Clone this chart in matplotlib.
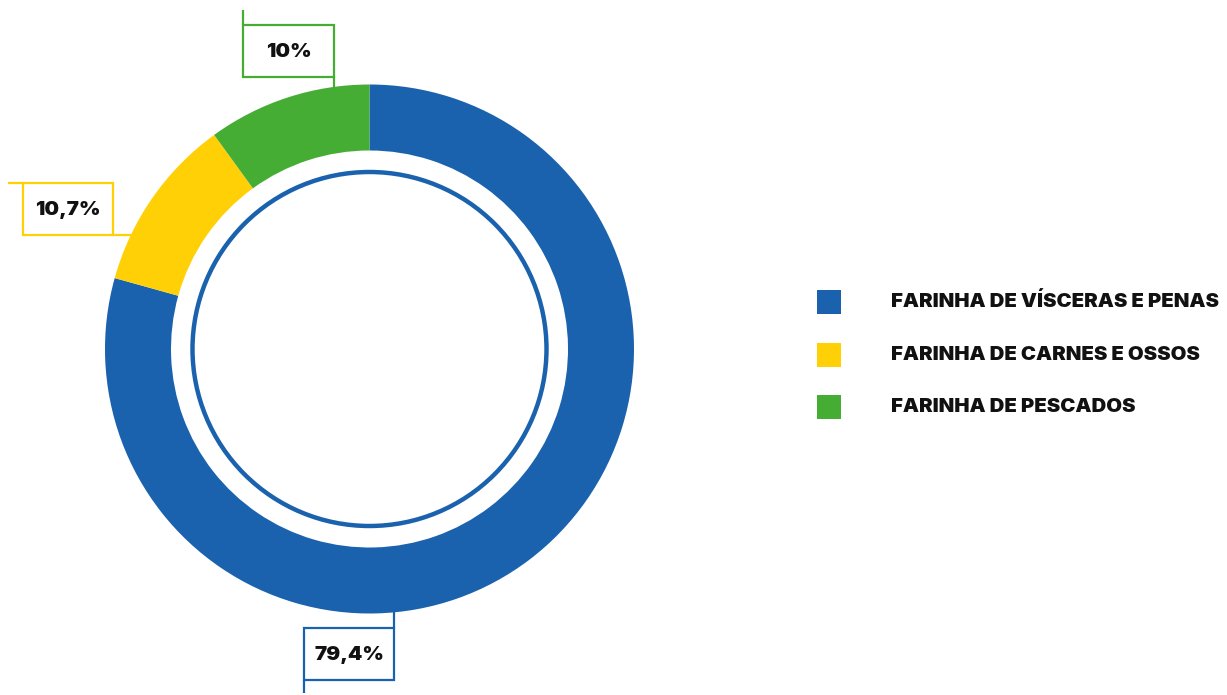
import matplotlib
matplotlib.use("Agg")
import matplotlib.pyplot as plt
from matplotlib.patches import Circle, Rectangle

plt.rcParams['font.family'] = ['Inter', 'DejaVu Sans']

categories = ["FARINHA DE VÍSCERAS E PENAS", "FARINHA DE CARNES E OSSOS", "FARINHA DE PESCADOS"]
values = [79.4, 10.7, 10.0]
colors = ["#1B62AE", "#FFD006", "#46AD34"]

W, H = 1227, 695
fig = plt.figure(figsize=(W / 100, H / 100), dpi=100)
ax = fig.add_axes([0, 0, 1, 1])

# pixel-like coordinates, y measured from the bottom
cx, cy = 369.5, H - 349
r_out, r_in = 264.5, 198.5

ax.pie(values, colors=colors, radius=r_out, center=(cx, cy), startangle=90,
       counterclock=False, wedgeprops=dict(width=r_out - r_in, linewidth=0))
ax.add_patch(Circle((cx, cy), 177, fill=False, edgecolor=colors[0], linewidth=3.2))

lw = 1.6


def label_box(x0, y0, x1, y1, color, text, leads):
    # box given in top-down pixel coords
    ax.add_patch(Rectangle((x0, H - y1), x1 - x0, y1 - y0, fill=False,
                           edgecolor=color, linewidth=lw))
    for (xa, ya), (xb, yb) in leads:
        ax.plot([xa, xb], [H - ya, H - yb], color=color, linewidth=lw,
                solid_capstyle='butt')
    ax.text((x0 + x1) / 2, H - (y0 + y1) / 2 - 1, text, ha='center', va='center',
            fontsize=14.8, fontweight=900, color='#111111')


def fmt(v):
    return f"{v:g}".replace('.', ',') + '%'


# blue label below the ring
label_box(304, 628, 394, 680, colors[0], fmt(values[0]),
          [((394, 612), (394, 628)), ((304, 680), (304, 693))])
# yellow label to the left
label_box(23, 183, 113, 235, colors[1], fmt(values[1]),
          [((8, 183), (23, 183)), ((113, 235), (131, 235))])
# green label above
label_box(243, 25, 334, 77, colors[2], fmt(values[2]),
          [((243, 10), (243, 25)), ((334, 77), (334, 88))])

# legend
for i, (name, c) in enumerate(zip(categories, colors)):
    yc = 302 + i * 52.5
    ax.add_patch(Rectangle((817, H - yc - 12), 24, 24, facecolor=c, edgecolor='none'))
    ax.text(891, H - yc, name, ha='left', va='center', fontsize=14.6,
            fontweight=900, color='#111111')

ax.set_xlim(0, W)
ax.set_ylim(0, H)
ax.set_aspect('equal')
ax.axis('off')

fig.savefig("out.png", dpi=100, facecolor='white')
